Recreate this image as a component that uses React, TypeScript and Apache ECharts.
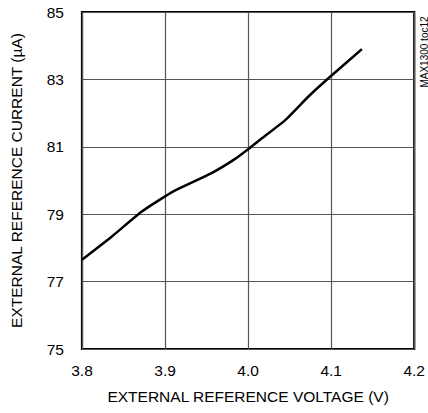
import React, { useEffect, useRef } from "react";
import * as echarts from "echarts";

const voltage = [3.8, 3.836, 3.872, 3.9, 3.914, 3.956, 3.983, 4.0, 4.017, 4.045, 4.073, 4.097, 4.137];
const current = [77.65, 78.34, 79.08, 79.53, 79.73, 80.22, 80.62, 80.93, 81.26, 81.8, 82.5, 83.04, 83.9];
const xTicks = [3.8, 3.9, 4.0, 4.1, 4.2];
const yTicks = [75, 77, 79, 81, 83, 85];
const xTitle = "EXTERNAL REFERENCE VOLTAGE (V)";
const yTitle = "EXTERNAL REFERENCE CURRENT (µA)";
const tag = "MAX1300 toc12";

const FONT = "'Liberation Sans', Arial, sans-serif";

export default function App() {
  const ref = useRef<HTMLDivElement>(null);
  useEffect(() => {
    if (!ref.current) return;
    const chart = echarts.init(ref.current, undefined, { renderer: "svg" });
    const data = voltage.map((v, i) => [v, current[i]]);
    chart.setOption({
      animation: false,
      backgroundColor: "#fff",
      grid: {
        left: 78,
        top: 12,
        right: 12,
        bottom: 64,
        show: true,
        borderColor: "#000",
        borderWidth: 2.2,
        backgroundColor: "transparent",
      },
      xAxis: {
        type: "value",
        min: xTicks[0],
        max: xTicks[xTicks.length - 1],
        interval: 0.1,
        name: xTitle,
        nameLocation: "middle",
        nameGap: 39,
        nameTextStyle: { fontFamily: FONT, fontSize: 15.5, color: "#000" },
        axisLine: { show: false },
        axisTick: { show: false },
        axisLabel: {
          margin: 13,
          fontFamily: FONT,
          fontSize: 15.5,
          color: "#000",
          formatter: (v: number) => v.toFixed(1),
        },
        splitLine: { show: true, lineStyle: { color: "#555", width: 1.2 } },
      },
      yAxis: {
        type: "value",
        min: yTicks[0],
        max: yTicks[yTicks.length - 1],
        interval: 1,
        name: yTitle,
        nameLocation: "middle",
        nameGap: 58,
        nameTextStyle: { fontFamily: FONT, fontSize: 15.5, color: "#000" },
        axisLine: { show: false },
        axisTick: { show: false },
        axisLabel: {
          margin: 18,
          fontFamily: FONT,
          fontSize: 15.5,
          color: "#000",
          formatter: (v: number) => (yTicks.includes(Math.round(v)) ? String(Math.round(v)) : ""),
        },
        splitLine: {
          show: true,
          lineStyle: { color: ["#555", "rgba(0,0,0,0)"], width: 1.2 },
        },
      },
      graphic: [
        {
          type: "text",
          x: 424,
          y: 52,
          rotation: Math.PI / 2,
          style: {
            text: tag,
            fontFamily: FONT,
            fontSize: 10,
            fill: "#000",
            align: "center",
            verticalAlign: "middle",
          },
        },
      ],
      series: [
        {
          type: "line",
          data,
          smooth: 0.2,
          showSymbol: false,
          symbol: "none",
          lineStyle: { color: "#000", width: 2.5 },
          z: 5,
        },
      ],
    });
    return () => chart.dispose();
  }, []);
  return (
    <div
      ref={ref}
      style={{ position: "fixed", left: 0, top: 0, width: 428, height: 413 }}
    />
  );
}
